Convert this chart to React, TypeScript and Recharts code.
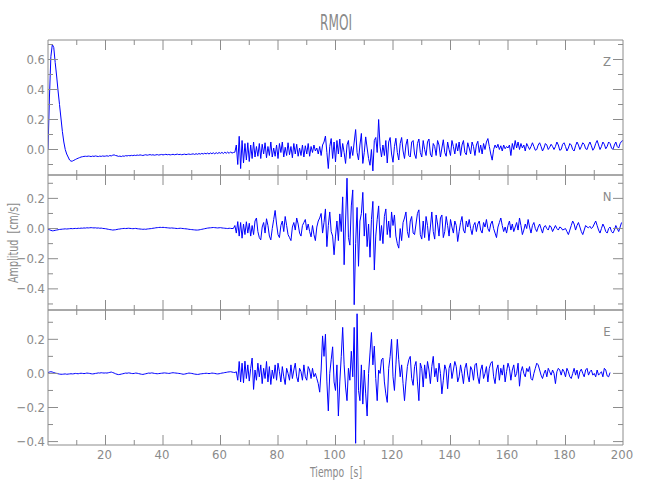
import React from "react";
import { LineChart, Line, XAxis, YAxis } from "recharts";

// sample spacing of the traces, seconds
const dt = 0.5;

// vertical component Z, cm/s, t = 0 .. 200 s
const zValues = [
  0.0, 0.35, 0.62, 0.7, 0.68, 0.58, 0.49, 0.39, 0.3, 0.21, 0.12, 0.05, 0.0, -0.03, -0.05, -0.07, -0.078, -0.077, -0.072, -0.067,
  -0.062, -0.058, -0.054, -0.05, -0.048, -0.046, -0.045, -0.046, -0.044, -0.045, -0.047, -0.044, -0.046, -0.043, -0.045, -0.047, -0.044, -0.046, -0.043, -0.045,
  -0.044, -0.042, -0.045, -0.04, -0.043, -0.038, -0.036, -0.04, -0.042, -0.046, -0.044, -0.047, -0.043, -0.045, -0.041, -0.043, -0.04, -0.042, -0.039, -0.041,
  -0.038, -0.04, -0.037, -0.039, -0.036, -0.038, -0.04, -0.037, -0.035, -0.038, -0.036, -0.034, -0.037, -0.035, -0.038, -0.036, -0.034, -0.037, -0.035, -0.033,
  -0.036, -0.034, -0.032, -0.035, -0.033, -0.036, -0.034, -0.032, -0.035, -0.033, -0.031, -0.034, -0.032, -0.035, -0.033, -0.031, -0.034, -0.032, -0.03, -0.033,
  -0.031, -0.029, -0.033, -0.028, -0.032, -0.027, -0.031, -0.026, -0.03, -0.025, -0.029, -0.024, -0.03, -0.023, -0.028, -0.022, -0.029, -0.021, -0.027, -0.02,
  -0.026, -0.019, -0.027, -0.018, -0.025, -0.017, -0.026, -0.016, -0.024, -0.02, -0.018, 0.03, -0.1, 0.088, -0.127, 0.06, -0.09, 0.04, -0.07, 0.045,
  -0.08, 0.03, -0.06, 0.05, -0.05, 0.02, -0.045, 0.04, -0.06, 0.035, -0.03, 0.045, -0.055, 0.02, -0.04, 0.05, -0.05, 0.01, -0.045, 0.03,
  -0.06, 0.04, -0.02, 0.05, -0.05, 0.015, -0.04, 0.045, -0.035, 0.02, -0.055, 0.04, -0.03, 0.035, -0.045, 0.01, -0.04, 0.03, -0.05, 0.025,
  -0.03, 0.04, -0.045, 0.02, -0.02, 0.03, -0.01, 0.01, -0.03, 0.02, -0.04, 0.03, 0.05, 0.09, -0.02, -0.127, 0.02, 0.073, -0.06, 0.05,
  -0.083, 0.06, -0.03, 0.07, -0.05, 0.04, -0.02, -0.093, 0.03, 0.06, -0.06, 0.02, -0.04, 0.05, 0.133, -0.02, -0.07, 0.03, 0.107, -0.093,
  -0.02, 0.084, 0.01, -0.06, -0.105, 0.0, -0.143, 0.06, 0.08, -0.02, 0.2, 0.02, -0.05, 0.03, -0.04, 0.06, -0.09, 0.05, 0.08, -0.03,
  -0.085, 0.02, 0.075, -0.02, -0.07, 0.04, 0.08, -0.01, -0.06, 0.03, 0.07, -0.04, -0.05, 0.05, 0.06, -0.03, -0.06, 0.04, 0.07, -0.02,
  -0.05, 0.06, 0.0, -0.04, 0.05, 0.07, -0.03, -0.05, 0.04, 0.02, -0.04, 0.06, 0.03, -0.05, 0.01, 0.065, -0.02, -0.045, 0.05, 0.0,
  -0.04, 0.06, 0.02, -0.03, 0.04, -0.01, 0.05, -0.04, 0.03, 0.06, -0.02, -0.035, 0.045, 0.01, -0.03, 0.05, 0.02, -0.04, 0.03, 0.055,
  -0.02, 0.03, -0.03, 0.04, 0.0, 0.05, 0.073, 0.02, -0.03, -0.071, 0.0, 0.03, 0.01, 0.035, 0.0, 0.025, -0.01, 0.03, 0.005, 0.02,
  0.01, 0.03, -0.04, 0.04, 0.0, 0.06, 0.01, 0.05, 0.0, 0.04, 0.01, 0.03, -0.01, 0.04, 0.02, 0.0, 0.02, 0.045, 0.02, -0.005,
  0.0, 0.03, 0.045, 0.02, -0.01, 0.01, 0.04, 0.03, 0.0, 0.015, 0.035, 0.02, 0.0, 0.02, 0.05, 0.03, -0.005, 0.0, 0.035, 0.045,
  0.02, -0.01, 0.01, 0.04, 0.03, 0.0, -0.01, 0.025, 0.05, 0.03, 0.0, 0.02, 0.045, 0.035, 0.005, 0.0, 0.03, 0.05, 0.025, -0.005,
  0.01, 0.04, 0.06, 0.03, 0.0, 0.02, 0.05, 0.035, 0.005, 0.02, 0.05, 0.04, 0.01, 0.0, 0.03, 0.05, 0.02, 0.01, 0.04, 0.055,
  0.06,
];

// north-south component N
const nValues = [
  -0.004, -0.008, -0.012, -0.015, -0.014, -0.012, -0.01, -0.008, -0.006, -0.005, -0.004, -0.003, -0.002, -0.003, -0.002, -0.001, 0.0, -0.001, 0.0, 0.001,
  0.0, 0.002, 0.001, 0.003, 0.002, 0.004, 0.003, 0.005, 0.004, 0.005, 0.006, 0.005, 0.004, 0.005, 0.003, 0.004, 0.002, 0.003, 0.001, 0.0,
  -0.001, -0.003, -0.005, -0.007, -0.008, -0.01, -0.009, -0.008, -0.006, -0.004, -0.003, -0.001, 0.0, 0.001, 0.0, 0.001, 0.002, 0.001, 0.0, -0.001,
  0.0, 0.001, -0.001, -0.002, -0.003, -0.004, -0.005, -0.004, -0.005, -0.003, -0.002, -0.001, 0.0, 0.002, 0.003, 0.005, 0.006, 0.007, 0.008, 0.007,
  0.008, 0.007, 0.006, 0.005, 0.004, 0.003, 0.004, 0.003, 0.002, 0.001, 0.0, 0.001, 0.002, 0.001, 0.0, -0.001, -0.002, -0.003, -0.005, -0.006,
  -0.007, -0.008, -0.009, -0.01, -0.01, -0.009, -0.007, -0.005, -0.003, -0.001, 0.001, 0.003, 0.004, 0.005, 0.006, 0.007, 0.006, 0.005, 0.004, 0.005,
  0.006, 0.004, 0.003, 0.002, 0.001, 0.0, 0.002, 0.001, 0.0, 0.001, 0.02, -0.03, 0.046, -0.05, 0.04, -0.064, 0.03, -0.04, 0.045, -0.03,
  0.035, -0.05, 0.02, -0.04, 0.05, 0.07, -0.02, -0.06, -0.075, 0.01, 0.04, -0.03, 0.065, 0.02, -0.05, -0.075, 0.0, 0.06, 0.12, 0.03,
  -0.04, -0.06, 0.02, 0.05, -0.02, 0.08, 0.02, -0.04, -0.06, -0.08, 0.01, 0.04, -0.01, 0.07, 0.03, -0.03, -0.05, 0.02, 0.04, 0.06,
  -0.01, 0.03, -0.02, -0.055, 0.02, -0.04, -0.08, 0.01, 0.05, 0.07, 0.1, -0.03, 0.04, 0.13, -0.12, 0.02, 0.11, -0.02, -0.05, -0.174,
  -0.05, 0.05, -0.08, 0.097, -0.02, 0.21, -0.24, 0.05, 0.334, -0.06, -0.11, 0.15, 0.256, -0.505, -0.1, 0.14, -0.25, 0.05, 0.1, 0.24,
  -0.05, 0.1, -0.12, 0.03, -0.19, 0.06, 0.18, -0.275, -0.05, 0.06, 0.15, -0.08, 0.02, -0.1, 0.08, 0.13, -0.04, 0.05, -0.06, 0.11,
  0.02, 0.09, -0.05, -0.1, -0.13, 0.0, -0.08, 0.04, 0.07, 0.11, -0.02, -0.06, 0.05, 0.08, -0.03, -0.04, 0.03, 0.1, 0.124, -0.04,
  -0.07, 0.05, -0.06, 0.08, 0.02, -0.08, 0.01, 0.11, -0.02, -0.07, 0.09, 0.03, -0.05, 0.07, 0.09, -0.06, -0.02, 0.08, 0.02, -0.05,
  0.06, 0.01, -0.03, 0.05, 0.02, -0.086, -0.02, 0.04, 0.08, -0.01, -0.03, 0.05, 0.01, 0.06, 0.0, -0.04, 0.02, 0.04, -0.02, 0.03,
  0.05, -0.01, -0.03, 0.04, 0.01, 0.06, 0.0, -0.02, 0.03, 0.05, 0.0, -0.03, -0.06, 0.01, 0.04, 0.07, 0.02, -0.02, 0.01, -0.03,
  0.02, 0.05, -0.01, 0.03, -0.02, 0.01, 0.04, -0.01, 0.07, 0.02, -0.04, -0.01, 0.03, 0.0, 0.06, 0.01, -0.03, 0.02, 0.04, 0.0,
  -0.02, 0.01, 0.03, 0.0, -0.03, 0.01, 0.02, 0.0, -0.01, 0.02, 0.01, -0.02, 0.0, 0.02, 0.0, -0.01, 0.01, 0.005, -0.01, -0.005,
  0.0, -0.02, -0.04, -0.01, 0.02, 0.05, 0.03, -0.01, 0.02, 0.04, 0.01, -0.02, -0.04, -0.01, 0.02, 0.01, 0.005, 0.015, 0.0, 0.01,
  0.03, 0.05, 0.02, -0.01, -0.03, 0.0, 0.03, 0.01, -0.02, -0.03, 0.0, 0.01, -0.02, -0.03, -0.01, 0.02, 0.0, -0.02, 0.01, 0.04,
];

// east-west component E
const eValues = [
  0.005, 0.008, 0.01, 0.008, 0.005, 0.002, 0.0, -0.002, -0.004, -0.005, -0.005, -0.004, -0.003, -0.005, -0.004, -0.003, -0.002, -0.003, -0.002, 0.0,
  -0.001, -0.002, 0.0, 0.001, 0.0, -0.001, 0.0, 0.002, 0.001, 0.0, -0.002, -0.003, -0.002, 0.0, 0.001, 0.003, 0.002, 0.004, 0.003, 0.002,
  0.003, 0.002, 0.004, 0.006, 0.008, 0.005, 0.002, -0.002, -0.005, -0.007, -0.006, -0.004, -0.002, 0.0, 0.002, 0.001, 0.003, 0.002, 0.0, -0.001,
  0.0, 0.002, 0.001, -0.001, -0.003, -0.005, -0.006, -0.004, -0.002, 0.0, 0.002, 0.001, 0.003, 0.002, 0.0, -0.001, -0.002, -0.001, 0.0, 0.001,
  0.002, 0.003, 0.002, 0.001, 0.0, 0.001, 0.003, 0.004, 0.003, 0.002, 0.001, 0.0, -0.001, -0.003, -0.005, -0.004, -0.002, 0.0, 0.002, 0.001,
  0.0, -0.002, -0.004, -0.005, -0.006, -0.005, -0.003, -0.002, -0.001, 0.0, 0.001, 0.0, -0.001, 0.0, 0.002, 0.001, 0.0, -0.002, -0.003, -0.002,
  0.0, 0.002, 0.003, 0.005, 0.006, 0.008, 0.009, 0.01, 0.008, 0.006, 0.005, 0.01, -0.04, 0.07, -0.05, 0.06, -0.055, 0.072, -0.03, 0.05,
  -0.045, 0.03, 0.09, -0.094, 0.02, -0.04, 0.06, -0.02, 0.05, -0.06, 0.03, -0.03, 0.07, -0.05, 0.04, -0.065, 0.02, -0.03, 0.05, -0.04,
  0.06, 0.01, -0.05, 0.04, -0.02, -0.065, 0.03, 0.0, -0.04, 0.05, -0.03, 0.02, 0.06, -0.02, -0.05, 0.03, 0.01, -0.04, 0.05, -0.02,
  -0.04, 0.04, 0.02, -0.03, 0.03, -0.02, 0.0, -0.03, -0.06, -0.11, 0.02, 0.22, 0.1, 0.23, -0.05, -0.22, 0.0, 0.08, 0.156, -0.05,
  -0.1, 0.05, -0.25, -0.05, 0.1, 0.27, 0.05, -0.08, -0.16, 0.03, -0.04, 0.13, -0.02, 0.27, -0.41, 0.35, -0.1, -0.16, 0.05, -0.18,
  0.02, -0.12, -0.25, 0.0, 0.12, 0.24, 0.05, 0.16, -0.03, -0.16, 0.02, 0.0, 0.08, 0.09, -0.05, -0.12, -0.17, 0.03, 0.1, 0.2,
  -0.02, -0.1, 0.05, 0.2, 0.08, -0.02, 0.05, -0.06, -0.16, -0.05, 0.04, 0.08, 0.1, -0.03, -0.07, 0.04, 0.07, -0.05, -0.16, 0.06,
  0.03, -0.08, 0.05, -0.03, 0.07, 0.02, -0.06, 0.04, 0.1, -0.02, 0.03, -0.05, 0.06, 0.0, -0.12, -0.04, 0.05, 0.02, -0.09, 0.03,
  0.06, -0.03, 0.02, 0.07, 0.04, -0.05, -0.02, 0.05, 0.0, -0.06, 0.03, 0.06, -0.01, -0.05, 0.04, 0.02, -0.04, 0.05, 0.06, -0.02,
  -0.06, 0.02, 0.05, -0.03, 0.0, 0.04, -0.05, 0.03, 0.06, 0.07, -0.02, -0.06, 0.02, 0.05, -0.04, 0.03, -0.01, 0.05, -0.05, 0.01,
  0.06, 0.03, -0.04, 0.02, 0.05, -0.02, 0.0, 0.06, -0.075, 0.01, 0.04, 0.0, -0.02, 0.03, 0.01, 0.04, -0.03, -0.04, 0.0, 0.03,
  0.06, 0.05, 0.02, -0.01, -0.03, 0.0, 0.02, -0.02, 0.03, 0.01, -0.01, 0.02, 0.0, -0.06, 0.01, 0.03, 0.02, -0.01, 0.025, 0.01,
  -0.02, 0.03, 0.01, -0.02, -0.03, 0.0, 0.03, -0.01, 0.02, -0.03, 0.01, 0.025, 0.0, -0.02, 0.02, 0.03, -0.01, 0.01, 0.02, -0.01,
  0.0, -0.02, 0.02, -0.01, 0.0, 0.01, -0.02, 0.03, 0.02, -0.015, -0.02, 0.005,
];

const xTicks = [0, 10, 20, 30, 40, 50, 60, 70, 80, 90, 100, 110, 120, 130, 140, 150, 160, 170, 180, 190, 200];
const zTicks = [-0.1, 0, 0.1, 0.2, 0.3, 0.4, 0.5, 0.6, 0.7];
const nTicks = [-0.5, -0.4, -0.3, -0.2, -0.1, 0, 0.1, 0.2, 0.3];
const eTicks = [-0.4, -0.3, -0.2, -0.1, 0, 0.1, 0.2, 0.3];

const AXIS = "#8c8c8c";
const TEXT = "#8a8a8a";
const TRACE = "#0000ff";
const FONT = "'Liberation Sans Narrow', 'DejaVu Sans Condensed', 'Liberation Sans', sans-serif";

const PLOT_H = 135;
const TOP_H = 5;

const rows = (values: number[]) => values.map((v, i) => ({ t: i * dt, v }));
const majorY = (v: number) => Math.round(v * 10) % 2 === 0;
const majorX = (v: number) => v % 20 === 0;
const fmtY = (v: number) => v.toFixed(1).replace("-", "\u2212");

function LeftTick({ x, y, payload }: any) {
  const major = majorY(payload.value);
  return (
    <g>
      <line x1={x} y1={y} x2={x + (major ? 10 : 5)} y2={y} stroke={AXIS} />
      {major && (
        <text x={x - 3} y={y} textAnchor="end" dominantBaseline="central" fill={TEXT} fontSize={13} fontFamily={FONT}>
          {fmtY(payload.value)}
        </text>
      )}
    </g>
  );
}

function RightTick({ x, y, payload }: any) {
  const major = majorY(payload.value);
  return <line x1={x} y1={y} x2={x - (major ? 10 : 5)} y2={y} stroke={AXIS} />;
}

function TopTick({ x, y, payload }: any) {
  if (payload.value === 0 || payload.value === 200) return <g />;
  return <line x1={x} y1={y} x2={x} y2={y + (majorX(payload.value) ? 10 : 5)} stroke={AXIS} />;
}

function BottomTick({ x, y, payload, showLabel }: any) {
  const v = payload.value;
  const edge = v === 0 || v === 200;
  return (
    <g>
      {!edge && <line x1={x} y1={y} x2={x} y2={y - (majorX(v) ? 10 : 5)} stroke={AXIS} />}
      {showLabel && majorX(v) && v !== 0 && (
        <text x={x - 1} y={y + 14} textAnchor="middle" fill={TEXT} fontSize={13} fontFamily={FONT}>
          {v}
        </text>
      )}
    </g>
  );
}

function Panel({ values, ticks, domain, top, showX }: any) {
  const bottomH = showX ? 30 : 5;
  return (
    <div style={{ position: "absolute", left: 0, top: top - TOP_H }}>
      <LineChart width={650} height={TOP_H + PLOT_H + bottomH} data={rows(values)} margin={{ top: 0, right: 0, bottom: 0, left: 0 }}>
        <XAxis
          dataKey="t"
          type="number"
          domain={[0, 200]}
          ticks={xTicks}
          interval={0}
          height={bottomH}
          tickSize={0}
          tickMargin={0}
          tickLine={false}
          axisLine={{ stroke: AXIS }}
          tick={(p: any) => <BottomTick {...p} showLabel={showX} />}
          allowDataOverflow
        />
        <XAxis
          xAxisId="top"
          orientation="top"
          dataKey="t"
          type="number"
          domain={[0, 200]}
          ticks={xTicks}
          interval={0}
          height={TOP_H}
          tickSize={0}
          tickMargin={0}
          tickLine={false}
          axisLine={{ stroke: AXIS }}
          tick={(p: any) => <TopTick {...p} />}
          allowDataOverflow
        />
        <YAxis
          type="number"
          domain={domain}
          ticks={ticks}
          interval={0}
          width={48}
          tickSize={0}
          tickMargin={0}
          tickLine={false}
          axisLine={{ stroke: AXIS }}
          tick={(p: any) => <LeftTick {...p} />}
          allowDataOverflow
        />
        <YAxis
          yAxisId="right"
          orientation="right"
          type="number"
          domain={domain}
          ticks={ticks}
          interval={0}
          width={27}
          tickSize={0}
          tickMargin={0}
          tickLine={false}
          axisLine={{ stroke: AXIS }}
          tick={(p: any) => <RightTick {...p} />}
          allowDataOverflow
        />
        <Line type="linear" dataKey="v" stroke={TRACE} strokeWidth={1} dot={false} isAnimationActive={false} />
      </LineChart>
    </div>
  );
}

export default function App() {
  const label = { fill: TEXT, fontFamily: FONT, lengthAdjust: "spacingAndGlyphs", style: { whiteSpace: "pre" } } as any;
  return (
    <div style={{ position: "absolute", left: 0, top: 0, width: 650, height: 500, background: "#fff" }}>
      <Panel values={zValues} ticks={zTicks} domain={[-0.17, 0.73]} top={40} />
      <Panel values={nValues} ticks={nTicks} domain={[-0.54, 0.355]} top={175} />
      <Panel values={eValues} ticks={eTicks} domain={[-0.42, 0.372]} top={310} showX />
      <svg width={650} height={500} style={{ position: "absolute", left: 0, top: 0, pointerEvents: "none" }}>
        <text x={336} y={30} textAnchor="middle" fontSize={21} textLength={32} {...label}>RMOI</text>
        <text x={336} y={477} textAnchor="middle" fontSize={14} textLength={52} {...label}>{"Tiempo  [s]"}</text>
        <text transform="translate(18,243) rotate(-90)" textAnchor="middle" fontSize={14} textLength={80} {...label}>
          {"Amplitud  [cm/s]"}
        </text>
        <text x={607} y={66} textAnchor="middle" fontSize={13} fill={TEXT} fontFamily={FONT}>Z</text>
        <text x={607} y={201} textAnchor="middle" fontSize={13} fill={TEXT} fontFamily={FONT}>N</text>
        <text x={607} y={336} textAnchor="middle" fontSize={13} fill={TEXT} fontFamily={FONT}>E</text>
      </svg>
    </div>
  );
}
